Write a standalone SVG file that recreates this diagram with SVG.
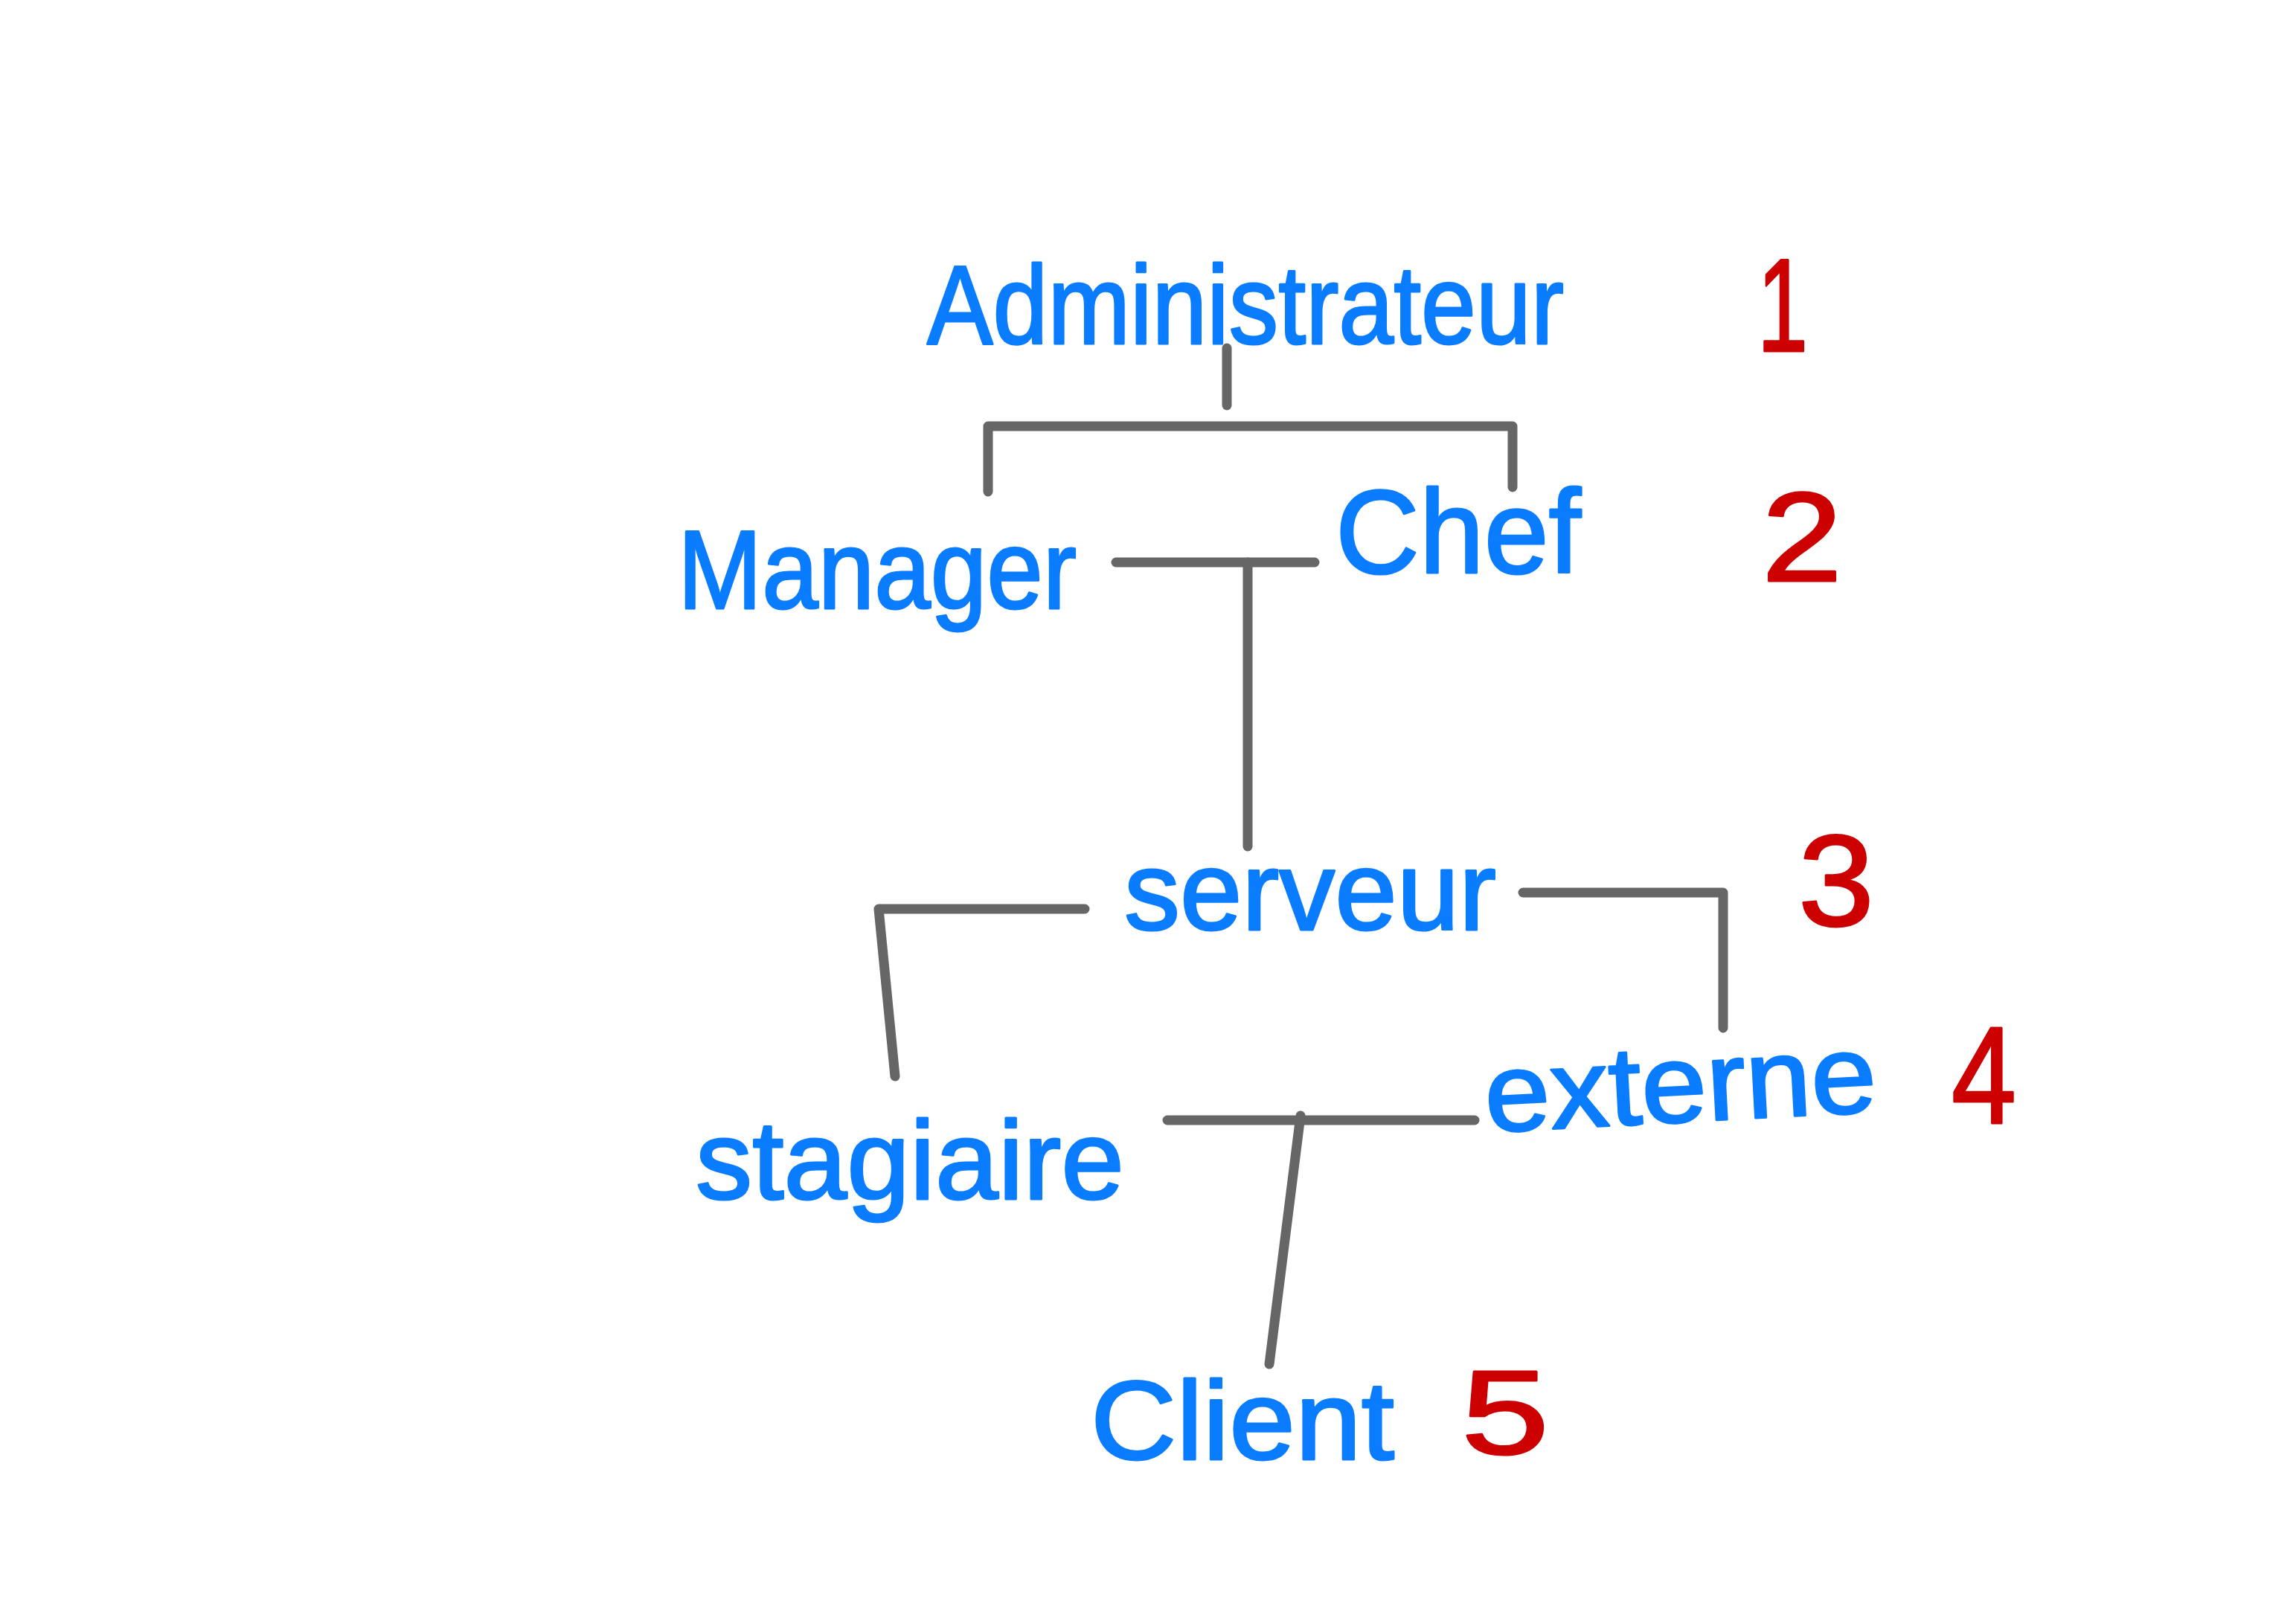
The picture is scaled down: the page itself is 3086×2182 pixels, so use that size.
<svg xmlns="http://www.w3.org/2000/svg" width="3086" height="2182" viewBox="0 0 3086 2182">
<style>
.lbl{font-family:"Liberation Sans","DejaVu Sans",sans-serif;fill:#0A7CFF;stroke:#0A7CFF;stroke-width:3;stroke-linejoin:round;}
.num{font-family:"Liberation Sans","DejaVu Sans",sans-serif;fill:#CC0000;stroke:#CC0000;stroke-width:3;stroke-linejoin:round;}
.c{stroke:#666666;stroke-width:13;fill:none;stroke-linecap:round;stroke-linejoin:round;}
</style>
<rect width="3086" height="2182" fill="#FFFFFF"/>
<g id="connectors">
<line class="c" x1="1649" y1="468" x2="1649" y2="545"/>
<polyline class="c" points="1328,661 1328,573 2033,573 2033,655"/>
<line class="c" x1="1500" y1="756" x2="1767" y2="756"/>
<line class="c" x1="1677" y1="756" x2="1677" y2="1138"/>
<polyline class="c" points="1458,1222 1181,1222 1203,1447"/>
<polyline class="c" points="2047,1200 2316,1200 2316,1382"/>
<line class="c" x1="1569" y1="1506" x2="1982" y2="1506"/>
<line class="c" x1="1748" y1="1500" x2="1706" y2="1834"/>
</g>
<g id="node-administrateur">
<text class="lbl" x="1246" y="462" font-size="150" textLength="856" lengthAdjust="spacingAndGlyphs">Administrateur</text>
</g>
<g id="node-manager">
<text class="lbl" x="911" y="818" font-size="150" textLength="536" lengthAdjust="spacingAndGlyphs">Manager</text>
</g>
<g id="node-chef">
<text class="lbl" x="1795" y="770" font-size="160" textLength="330" lengthAdjust="spacingAndGlyphs">Chef</text>
</g>
<g id="node-serveur">
<text class="lbl" x="1511" y="1250" font-size="150" textLength="500" lengthAdjust="spacingAndGlyphs">serveur</text>
</g>
<g id="node-stagiaire">
<text class="lbl" x="935" y="1612" font-size="150" textLength="576" lengthAdjust="spacingAndGlyphs">stagiaire</text>
</g>
<g id="node-externe">
<text class="lbl" x="1998" y="1522" font-size="150" textLength="527" lengthAdjust="spacingAndGlyphs" transform="rotate(-3 1998 1522)">externe</text>
</g>
<g id="node-client">
<text class="lbl" x="1466" y="1962" font-size="150" textLength="408" lengthAdjust="spacingAndGlyphs">Client</text>
</g>
<g id="levels">
<text class="num" x="2362" y="472" font-size="178" textLength="68" lengthAdjust="spacingAndGlyphs">1</text>
<text class="num" x="2368" y="781" font-size="170" textLength="108" lengthAdjust="spacingAndGlyphs">2</text>
<text class="num" x="2417" y="1244" font-size="175" textLength="102" lengthAdjust="spacingAndGlyphs">3</text>
<text class="num" x="2623" y="1510" font-size="185" textLength="87" lengthAdjust="spacingAndGlyphs">4</text>
<text class="num" x="1964" y="1954" font-size="160" textLength="118" lengthAdjust="spacingAndGlyphs">5</text>
</g>
</svg>
